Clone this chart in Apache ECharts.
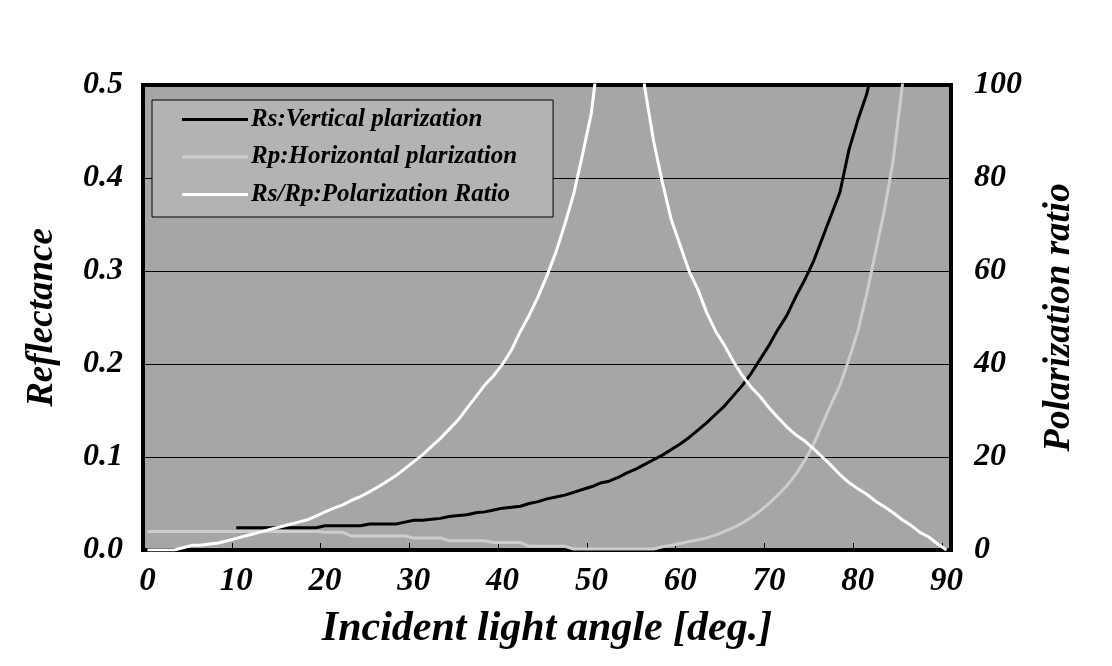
<!DOCTYPE html>
<html>
<head>
<meta charset="utf-8">
<script src="https://cdn.jsdelivr.net/npm/echarts@6/dist/echarts.min.js"></script>
<style>
  html, body { margin: 0; padding: 0; background: #ffffff; }
  #chart { width: 1112px; height: 666px; }
</style>
</head>
<body>
<div id="chart"></div>
<script>
// Incident angle categories (deg.)
const angles = [0,1,2,3,4,5,6,7,8,9,10,11,12,13,14,15,16,17,18,19,20,21,22,23,24,25,26,27,28,29,30,
  31,32,33,34,35,36,37,38,39,40,41,42,43,44,45,46,47,48,49,50,51,52,53,54,55,56,57,58,59,60,
  61,62,63,64,65,66,67,68,69,70,71,72,73,74,75,76,77,78,79,80,81,82,83,84,85,86,87,88,89,90];

// Rs: vertical polarization reflectance (left axis)
const rsValues = [null,null,null,null,null,null,null,null,null,null,
  0.024,0.024,0.024,0.024,0.024,0.024,0.024,0.024,0.024,0.024,
  0.026,0.026,0.026,0.026,0.026,0.028,0.028,0.028,0.028,0.030,
  0.032,0.032,0.033,0.034,0.036,0.037,0.038,0.040,0.041,0.043,
  0.045,0.046,0.047,0.050,0.052,0.055,0.057,0.059,0.062,0.065,
  0.068,0.072,0.074,0.078,0.083,0.087,0.092,0.097,0.102,0.108,
  0.114,0.121,0.129,0.137,0.146,0.155,0.166,0.177,0.190,0.205,
  0.220,0.237,0.252,0.272,0.290,0.310,0.335,0.360,0.385,0.430,
  0.462,0.490,0.530,0.570,0.610,0.660,0.710,0.770,0.840,0.920,1.000];

// Rp: horizontal polarization reflectance (left axis)
const rpValues = [0.020,0.020,0.020,0.020,0.020,0.020,0.020,0.020,0.020,0.020,
  0.020,0.020,0.020,0.020,0.020,0.020,0.020,0.020,0.020,0.020,
  0.019,0.019,0.019,0.015,0.015,0.015,0.015,0.015,0.015,0.015,
  0.013,0.013,0.013,0.013,0.010,0.010,0.010,0.010,0.010,0.008,
  0.008,0.008,0.008,0.004,0.004,0.004,0.004,0.004,0.001,0.001,
  0.001,0.001,0.001,0.001,0.001,0.001,0.001,0.001,0.0035,0.005,
  0.007,0.009,0.011,0.013,0.016,0.020,0.024,0.029,0.035,0.042,
  0.050,0.059,0.069,0.081,0.096,0.113,0.135,0.157,0.177,0.205,
  0.235,0.275,0.320,0.365,0.420,0.498,0.560,0.630,0.720,0.840,1.000];

// Rs/Rp: polarization ratio (right axis)
const ratioValues = [0,0,0,0,0.5,1,1,1.3,1.5,2,
  2.5,3,3.5,4,4.5,5,5.5,6,6.5,7.3,
  8.2,9,9.7,10.7,11.5,12.5,13.6,14.8,16,17.5,
  19,20.5,22.3,24,26,28,30.5,33,35.5,37.5,
  40,43,47,50.5,54.5,59,64,70,76.5,85,
  94,110,140,200,180,120,99.5,88,79,71,
  65.5,60,56,51,47,44,40.5,37.5,35,33,
  30.6,28.5,26.5,24.8,23.5,21.8,20,18.2,16.2,14.5,
  13.2,12,10.5,9.3,8,6.5,5.3,3.8,2.8,1.3,0];

const seriesNames = ['Rs:Vertical plarization', 'Rp:Horizontal plarization', 'Rs/Rp:Polarization Ratio'];
const leftTicks = { min: 0, max: 0.5, interval: 0.1 };
const rightTicks = { min: 0, max: 100, interval: 20 };

const FONT = '"Liberation Serif", "Times New Roman", serif';
const labelStyle = { fontFamily: FONT, fontWeight: 'bold', fontStyle: 'italic', color: '#000' };

const chart = echarts.init(document.getElementById('chart'), null, { renderer: 'canvas' });
chart.setOption({
  backgroundColor: '#ffffff',
  animation: false,
  grid: {
    left: 143, right: 161, top: 85, bottom: 116,
    show: true, backgroundColor: '#a6a6a6', borderColor: '#000', borderWidth: 4,
    containLabel: false
  },
  legend: {
    orient: 'vertical',
    left: 152, top: 100,
    backgroundColor: '#b3b3b3',
    borderColor: '#000', borderWidth: 1, borderRadius: 0,
    padding: [7, 36, 10, 30],
    itemGap: 12.5,
    itemWidth: 66, itemHeight: 3,
    icon: 'rect',
    textStyle: Object.assign({ fontSize: 25, padding: [0, 0, 0, -2] }, labelStyle),
    data: seriesNames,
    z: 10
  },
  xAxis: {
    type: 'category',
    data: angles,
    boundaryGap: true,
    name: 'Incident light angle [deg.]',
    nameLocation: 'middle',
    nameGap: 58,
    nameTextStyle: Object.assign({ fontSize: 42 }, labelStyle),
    axisLine: { show: false },
    axisTick: { show: true, inside: true, length: 7, interval: 9, alignWithLabel: false, lineStyle: { color: '#000', width: 1 } },
    axisLabel: Object.assign({ interval: 9, fontSize: 33, margin: 15 }, labelStyle),
    splitLine: { show: false }
  },
  yAxis: [
    {
      type: 'value',
      min: leftTicks.min, max: leftTicks.max, interval: leftTicks.interval,
      position: 'left',
      name: 'Reflectance',
      nameLocation: 'middle',
      nameRotate: 90,
      nameGap: 82,
      nameTextStyle: Object.assign({ fontSize: 37 }, labelStyle),
      axisLine: { show: false },
      axisTick: { show: false },
      axisLabel: Object.assign({ fontSize: 32, margin: 20, formatter: v => v.toFixed(1) }, labelStyle),
      splitLine: { show: true, lineStyle: { color: '#000', width: 1 } }
    },
    {
      type: 'value',
      min: rightTicks.min, max: rightTicks.max, interval: rightTicks.interval,
      position: 'right',
      name: 'Polarization ratio',
      nameLocation: 'middle',
      nameRotate: 90,
      nameGap: 90,
      nameTextStyle: Object.assign({ fontSize: 37 }, labelStyle),
      axisLine: { show: false },
      axisTick: { show: false },
      axisLabel: Object.assign({ fontSize: 32, margin: 23 }, labelStyle),
      splitLine: { show: false }
    }
  ],
  series: [
    {
      name: seriesNames[0], type: 'line', yAxisIndex: 0, data: rsValues,
      symbol: 'none', clip: true, connectNulls: false,
      lineStyle: { color: '#000000', width: 3 }, itemStyle: { color: '#000000' }
    },
    {
      name: seriesNames[1], type: 'line', yAxisIndex: 0, data: rpValues,
      symbol: 'none', clip: true,
      lineStyle: { color: '#cdcdcd', width: 3 }, itemStyle: { color: '#cdcdcd' }
    },
    {
      name: seriesNames[2], type: 'line', yAxisIndex: 1, data: ratioValues,
      symbol: 'none', clip: true,
      lineStyle: { color: '#ffffff', width: 3 }, itemStyle: { color: '#ffffff' }
    }
  ]
});
</script>
</body>
</html>
